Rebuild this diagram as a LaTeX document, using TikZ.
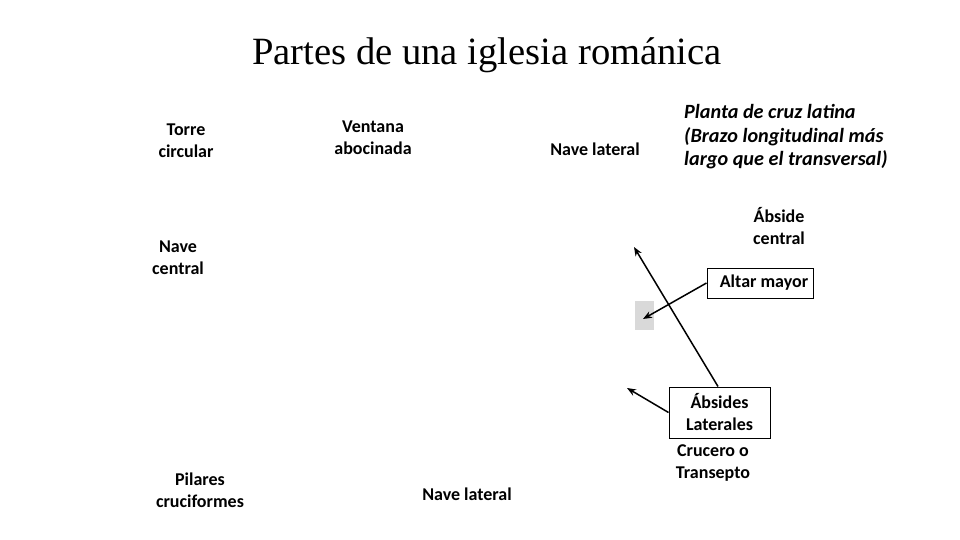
\documentclass[tikz,border=0pt]{standalone}
\usepackage{fontspec}
\setmainfont{Carlito}
\newfontfamily\titlefont{Liberation Serif}
\usetikzlibrary{arrows.meta}
\begin{document}
\begin{tikzpicture}[x=1pt,y=-1pt,
  lbl/.style={align=center,font=\bfseries\fontsize{18}{22}\selectfont,inner sep=0pt},
  boxed/.style={lbl,draw=black,line width=1pt,inner sep=0pt},
  arr/.style={-{Stealth[length=9pt,width=7pt]},line width=1.5pt}]
\useasboundingbox (0,0) rectangle (960,540);
\node[font=\titlefont\fontsize{38.6}{42}\selectfont] (title) at (487,55) {Partes de una iglesia románica};
\node[lbl] (torre) at (186,141) {Torre\\circular};
\node[lbl] (ventana) at (373,138) {Ventana\\abocinada};
\node[lbl] (navelat1) at (595,149) {Nave lateral};
\node[lbl,align=left,font=\bfseries\itshape\fontsize{20.2}{23.5}\selectfont,anchor=west] (planta) at (684,137) {Planta de cruz latina\\(Brazo longitudinal más\\largo que el transversal)};
\node[lbl] (abside) at (779,226) {Ábside\\central};
\node[lbl] (navecen) at (178,258) {Nave\\central};
\node[draw=black,line width=1pt,inner sep=0pt,minimum width=106pt,minimum height=30pt] (altar) at (760,283) {};
\node[lbl] (altart) at (764,283) {Altar mayor};
\node[fill={rgb,255:red,217;green,217;blue,217},minimum width=19pt,minimum height=29pt,inner sep=0pt] (gray) at (644.5,315.5) {};
\node[boxed,minimum width=101pt,minimum height=51pt] (absides) at (719.5,412.5) {Ábsides\\Laterales};
\node[lbl] (crucero) at (713,463) {Crucero o\\Transepto};
\node[lbl] (pilares) at (200,490) {Pilares\\cruciformes};
\node[lbl] (navelat2) at (467,494) {Nave lateral};
\coordinate (t1) at (643,319);
\coordinate (t2) at (634,247);
\coordinate (t3) at (627,388);
\draw[arr] (altar.west) -- (t1);
\draw[arr] (absides.north -| 718,0) -- (t2);
\draw[arr] (absides.west) -- (t3);
\end{tikzpicture}
\end{document}
